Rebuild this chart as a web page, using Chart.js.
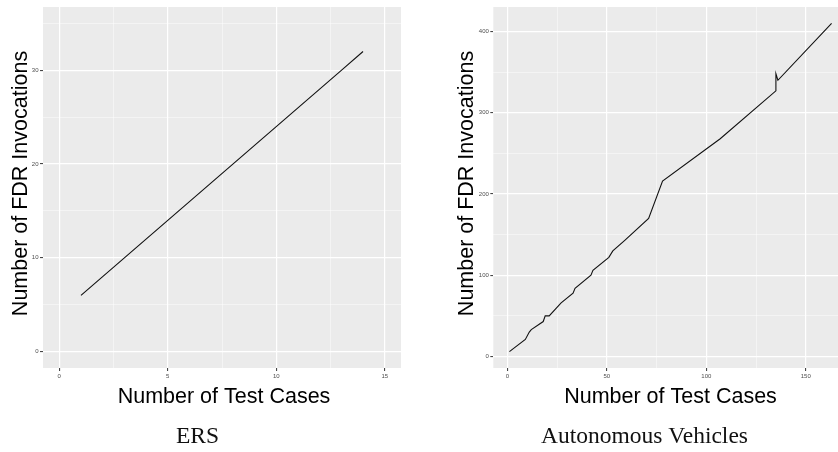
<!DOCTYPE html>
<html>
<head>
<meta charset="utf-8">
<script src="https://cdn.jsdelivr.net/npm/chart.js@4.4.1/dist/chart.umd.min.js"></script>
<style>
  html, body { margin: 0; padding: 0; background: #fff; }
  body { width: 838px; height: 452px; overflow: hidden; position: relative; }
  canvas { position: absolute; top: 0; }
  #ers { left: 0; }
  #av { left: 420px; }
</style>
</head>
<body>
<canvas id="ers" width="420" height="452"></canvas>
<canvas id="av" width="440" height="452"></canvas>
<script>
// ERS panel
const ersCases = [1, 2, 3, 4, 5, 6, 7, 8, 9, 10, 11, 12, 13, 14]
const ersInvocations = [6, 8, 10, 12, 14, 16, 18, 20, 22, 24, 26, 28, 30, 32]
const ersXTicks = [0, 5, 10, 15]
const ersXMinor = [2.5, 7.5, 12.5]
const ersYTicks = [0, 10, 20, 30]
const ersYMinor = [5, 15, 25, 35]

// Autonomous Vehicles panel
const avCases = [1, 9, 11, 12, 18, 19, 21, 27, 33, 34, 42, 43, 51, 53, 59, 71, 78, 107, 135, 135, 136, 163]
const avInvocations = [6, 21, 30, 33, 43, 50, 50, 66, 78, 84, 100, 106, 122, 130, 143, 170, 216, 268, 327, 348, 340, 410]
const avXTicks = [0, 50, 100, 150]
const avXMinor = [25, 75, 125]
const avYTicks = [0, 100, 200, 300, 400]
const avYMinor = [50, 150, 250, 350]

const sans = '"Liberation Sans", Arial, sans-serif'
const serif = '"Liberation Serif", "Times New Roman", serif'

// grey panel + big axis titles + caption, drawn like the ggplot export
const ggDecor = {
    id: 'ggDecor',
    beforeDraw(chart, args, opts) {
        const {ctx, chartArea: a} = chart
        ctx.save()
        ctx.fillStyle = '#EBEBEB'
        ctx.fillRect(a.left, a.top, a.right - a.left, a.bottom - a.top)
        ctx.restore()
    },
    afterDraw(chart, args, opts) {
        const ctx = chart.ctx
        ctx.save()
        ctx.fillStyle = '#000'
        ctx.textAlign = 'center'
        ctx.textBaseline = 'alphabetic'
        ctx.font = '21.5px ' + sans
        ctx.fillText(opts.xTitle, opts.xTitleX, 403)
        ctx.save()
        ctx.translate(opts.yTitleX, 183.5)
        ctx.rotate(-Math.PI / 2)
        ctx.fillText(opts.yTitle, 0, 0)
        ctx.restore()
        ctx.font = '23.5px ' + serif
        ctx.fillStyle = '#111'
        ctx.fillText(opts.caption, opts.captionX, 443)
        ctx.restore()
    }
}

function axis(min, max, major, minor, fixed) {
    const isMajor = v => major.includes(v)
    return {
        type: 'linear',
        min: min,
        max: max,
        bounds: 'data',
        afterBuildTicks: scale => {
            scale.ticks = major.concat(minor).sort((a, b) => a - b).map(v => ({value: v}))
        },
        afterFit: fixed,
        border: {display: false},
        grid: {
            color: c => isMajor(c.tick.value) ? '#FFFFFF' : 'rgba(255,255,255,0.75)',
            lineWidth: c => isMajor(c.tick.value) ? 1.2 : 0.6,
            tickColor: c => isMajor(c.tick.value) ? '#333333' : 'rgba(0,0,0,0)',
            tickWidth: 1,
            tickLength: 3
        },
        ticks: {
            autoSkip: false,
            maxRotation: 0,
            minRotation: 0,
            padding: 1.5,
            color: '#4D4D4D',
            font: {family: sans, size: 6},
            callback: v => isMajor(v) ? String(v) : ''
        }
    }
}

function points(xs, ys) {
    return xs.map((x, i) => ({x: x, y: ys[i]}))
}

const ersChart = new Chart(document.getElementById('ers'), {
    type: 'line',
    data: {
        datasets: [{
            data: points(ersCases, ersInvocations),
            borderColor: '#111111',
            borderWidth: 1.1,
            pointRadius: 0,
            tension: 0
        }]
    },
    options: {
        responsive: false,
        animation: false,
        events: [],
        layout: {padding: {left: 0, top: 7, right: 19, bottom: 0}},
        plugins: {
            legend: {display: false},
            tooltip: {enabled: false},
            ggDecor: {
                xTitle: 'Number of Test Cases', xTitleX: 224,
                yTitle: 'Number of FDR Invocations', yTitleX: 27,
                caption: 'ERS', captionX: 197.5
            }
        },
        scales: {
            x: axis(-0.75, 15.75, ersXTicks, ersXMinor, s => { s.height = 84 }),
            y: axis(-1.75, 36.75, ersYTicks, ersYMinor, s => { s.width = 43 })
        }
    },
    plugins: [ggDecor]
})

const avChart = new Chart(document.getElementById('av'), {
    type: 'line',
    data: {
        datasets: [{
            data: points(avCases, avInvocations),
            borderColor: '#111111',
            borderWidth: 1.1,
            pointRadius: 0,
            tension: 0
        }]
    },
    options: {
        responsive: false,
        animation: false,
        events: [],
        layout: {padding: {left: 0, top: 7, right: 12.3, bottom: 0}},
        plugins: {
            legend: {display: false},
            tooltip: {enabled: false},
            ggDecor: {
                xTitle: 'Number of Test Cases', xTitleX: 250.5,
                yTitle: 'Number of FDR Invocations', yTitleX: 52.7,
                caption: 'Autonomous Vehicles', captionX: 224.5
            }
        },
        scales: {
            x: axis(-7.1, 171.1, avXTicks, avXMinor, s => { s.height = 84 }),
            y: axis(-14.2, 430.2, avYTicks, avYMinor, s => { s.width = 73.3 })
        }
    },
    plugins: [ggDecor]
})
</script>
</body>
</html>
